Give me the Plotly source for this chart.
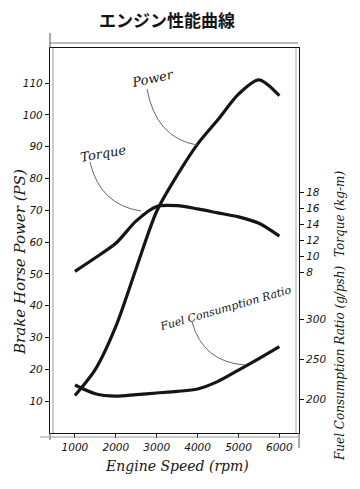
import plotly.graph_objects as go

# ---- data ----
rpm = [1000, 1500, 2000, 2500, 3000, 3500, 4000, 4500, 5000, 5500, 6000]
power_ps = [11.8, 20.0, 33.5, 51.8, 69.7, 81.0, 90.8, 98.5, 106.5, 111.0, 106.0]
torque_kgm = [8.1, 9.8, 11.6, 14.4, 16.2, 16.3, 15.9, 15.4, 14.9, 14.1, 12.5]
fuel_gpsh = [218, 207, 204, 206, 208, 210, 213, 222.5, 236.5, 251, 266]

x_ticks = [1000, 2000, 3000, 4000, 5000, 6000]
power_ticks = [10, 20, 30, 40, 50, 60, 70, 80, 90, 100, 110]
torque_ticks = [8, 10, 12, 14, 16, 18]
fuel_ticks = [200, 250, 300]

title_text = "エンジン性能曲線"

INK = "#151515"
TICKFONT = dict(family="DejaVu Sans", size=10.5, color=INK, style="italic")
LABELFONT = dict(family="DejaVu Serif", size=12, color=INK, style="italic")

fig = go.Figure()
fig.add_trace(go.Scatter(x=rpm, y=power_ps, mode="lines", name="Power",
                         line=dict(color=INK, width=3.2, shape="spline", smoothing=0.8),
                         yaxis="y", showlegend=False, hoverinfo="skip"))
fig.add_trace(go.Scatter(x=rpm, y=torque_kgm, mode="lines", name="Torque",
                         line=dict(color=INK, width=3.2, shape="spline", smoothing=0.8),
                         yaxis="y2", showlegend=False, hoverinfo="skip"))
fig.add_trace(go.Scatter(x=rpm, y=fuel_gpsh, mode="lines", name="Fuel Consumption Ratio",
                         line=dict(color=INK, width=3.2, shape="spline", smoothing=0.8),
                         yaxis="y3", showlegend=False, hoverinfo="skip"))

# plot area in pixels: x 50..299, y 48..433
L, R, T, B = 50, 299, 48, 433
W, H = R - L, B - T


def px(xp, yp):
    return (xp - L) / W, (B - yp) / H


shapes = []


def curve(p0, c, p1, color="#666", width=1):
    x0, y0 = px(*p0)
    cx, cy = px(*c)
    x1, y1 = px(*p1)
    shapes.append(dict(type="path", xref="paper", yref="paper",
                       path=f"M {x0} {y0} Q {cx} {cy} {x1} {y1}",
                       line=dict(color=color, width=width)))


def seg(p0, p1, color="#444", width=1):
    x0, y0 = px(*p0)
    x1, y1 = px(*p1)
    shapes.append(dict(type="line", xref="paper", yref="paper",
                       x0=x0, y0=y0, x1=x1, y1=y1,
                       line=dict(color=color, width=width)))


# leader lines
curve((147, 89), (156, 138), (197, 145))
curve((90, 162), (100, 205), (141, 211))
curve((192, 322), (203, 362), (245, 365))

# sketchy frame extras
seg((50, 43), (298, 43), color="#777")
seg((53, 48), (53, 433), color="#999")
seg((50, 33), (50, 48), color="#555")
seg((50, 433), (50, 440), color="#555")
seg((299, 433), (299, 448), color="#555")
seg((296, 48), (296, 433), color="#aaa")
seg((40, 437), (299, 437), color="#999")


def note(text, xp, yp, font, angle=0):
    x, y = px(xp, yp)
    return dict(text=text, xref="paper", yref="paper", x=x, y=y, xanchor="center",
                yanchor="middle", showarrow=False, textangle=angle, font=font)


annotations = [
    note(title_text, 167, 20, dict(family="Noto Sans CJK JP", size=17, color=INK, weight="bold")),
    note("Power", 152, 78, dict(LABELFONT, size=13), -12),
    note("Torque", 103, 153, dict(LABELFONT, size=13), -10),
    note("Fuel Consumption Ratio", 225, 308, dict(LABELFONT, size=11), -16),
    note("Brake Horse Power (PS)", 20, 262, dict(LABELFONT, size=15), -90),
    note("Torque (kg-m)", 340, 214, dict(LABELFONT, size=12), -90),
    note("Fuel Consumption Ratio (g/psh)", 340, 364, dict(LABELFONT, size=12), -90),
    note("Engine Speed (rpm)", 177, 466, dict(LABELFONT, size=14)),
]

fig.update_layout(
    width=360, height=489,
    template="none",
    margin=dict(l=L, r=360 - R, t=T, b=489 - B, pad=0),
    paper_bgcolor="white", plot_bgcolor="white",
    showlegend=False,
    xaxis=dict(range=[390, 6480], tickvals=x_ticks, ticktext=[str(v) for v in x_ticks],
               showgrid=False, zeroline=False, showline=True, linecolor=INK, linewidth=1.2,
               mirror=True, ticks="outside", ticklen=4, tickcolor=INK, tickfont=TICKFONT,
               automargin=False),
    yaxis=dict(range=[0, 121], tickvals=power_ticks, showgrid=False, zeroline=False,
               showline=True, linecolor=INK, linewidth=1.2, ticks="outside", ticklen=4,
               tickcolor=INK, tickfont=TICKFONT, automargin=False),
    yaxis2=dict(range=[-12.1, 36.0], tickvals=torque_ticks, overlaying="y", side="right",
                showgrid=False, zeroline=False, showline=True, linecolor=INK, linewidth=1.2,
                ticks="outside", ticklen=4, tickcolor=INK, tickfont=TICKFONT, automargin=False),
    yaxis3=dict(range=[158, 639], tickvals=fuel_ticks, overlaying="y", side="right",
                anchor="x", showgrid=False, zeroline=False, showline=False,
                ticks="outside", ticklen=4, tickcolor=INK, tickfont=TICKFONT, automargin=False),
    shapes=shapes,
    annotations=annotations,
)

fig.write_html("out.html", config={"displayModeBar": False},
               post_script="document.body.style.margin='0px';")
